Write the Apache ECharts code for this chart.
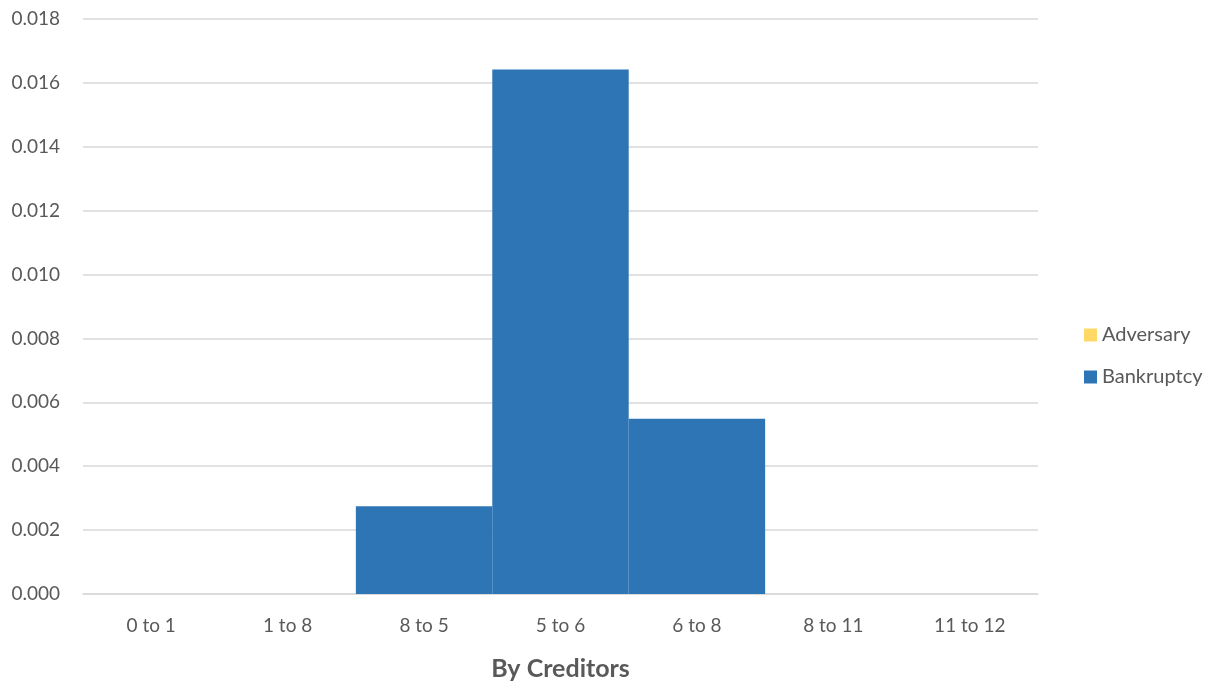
<!DOCTYPE html>
<html>
<head>
<meta charset="utf-8">
<script src="https://cdn.jsdelivr.net/npm/echarts@6/dist/echarts.min.js"></script>
<style>html,body{margin:0;padding:0;background:#fff;}#c{width:1219px;height:686px;}</style>
</head>
<body>
<div id="c"></div>
<script>
const categories = ['0 to 1', '1 to 8', '8 to 5', '5 to 6', '6 to 8', '8 to 11', '11 to 12'];
const adversary = [0, 0, 0, 0, 0, 0, 0];
const bankruptcy = [0, 0, 0.00275, 0.01642, 0.00549, 0, 0];
const yTicks = { min: 0, max: 0.018, interval: 0.002 };

const font = "Lato, 'Open Sans', sans-serif";
const chart = echarts.init(document.getElementById('c'));
chart.setOption({
  animation: false,
  textStyle: { fontFamily: font },
  grid: { left: 83, right: 181, top: 19, bottom: 90, containLabel: false },
  legend: {
    orient: 'vertical', left: 1079, top: 320, itemGap: 22,
    itemWidth: 13, itemHeight: 13, icon: 'rect',
    textStyle: { fontFamily: font, fontSize: 20, color: '#595959', padding: [0, 0, 0, 0] },
    data: ['Adversary', 'Bankruptcy']
  },
  xAxis: {
    type: 'category', data: categories,
    name: 'By Creditors', nameLocation: 'middle', nameGap: 62,
    nameTextStyle: { fontFamily: font, fontSize: 25, fontWeight: 'bold', color: '#595959' },
    axisLine: { lineStyle: { color: '#d9d9d9', width: 1.5 } },
    axisTick: { show: false },
    axisLabel: { fontFamily: font, fontSize: 19, color: '#595959', margin: 22 }
  },
  yAxis: {
    type: 'value', min: yTicks.min, max: yTicks.max, interval: yTicks.interval,
    axisLine: { show: false }, axisTick: { show: false },
    axisLabel: { fontFamily: font, fontSize: 19, color: '#595959', margin: 23,
      formatter: v => v.toFixed(3) },
    splitLine: { lineStyle: { color: '#d9d9d9', width: 1.5 } }
  },
  series: [
    { name: 'Adversary', type: 'bar', stack: 's', data: adversary,
      itemStyle: { color: '#FFD966' }, barCategoryGap: '0%', barGap: '0%' },
    { name: 'Bankruptcy', type: 'bar', stack: 's', data: bankruptcy,
      itemStyle: { color: '#2E75B6' }, barCategoryGap: '0%', barGap: '0%' }
  ]
});
</script>
</body>
</html>
